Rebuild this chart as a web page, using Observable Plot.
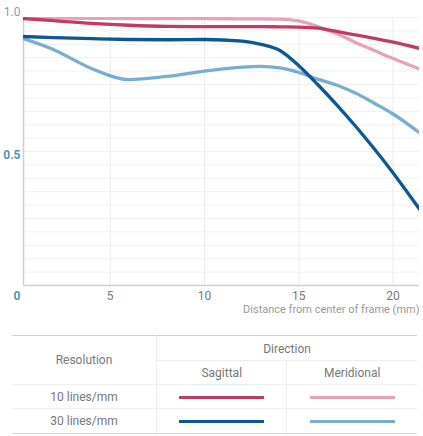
<!DOCTYPE html>
<html>
<head>
<meta charset="utf-8">
<script src="https://cdn.jsdelivr.net/npm/d3@7"></script>
<script src="https://cdn.jsdelivr.net/npm/@observablehq/plot@0.6"></script>
<style>
  body { margin: 0; background: #fff; font-family: Roboto, sans-serif; }
  #chart { width: 423px; height: 325px; }
  table.legend { margin-top: 10px; margin-left: 12px; width: 405px; border-collapse: collapse; color: #777; font-size: 12px; }
  table.legend td { text-align: center; padding: 0; border-bottom: 1px solid #eeeeee; }
  table.legend tr:first-child td { border-top: 1.5px solid #cfcfcf; }
  table.legend tr:last-child td { border-bottom: 1.5px solid #cfcfcf; }
  .sw { display: inline-block; width: 85px; height: 3px; vertical-align: middle; }
</style>
</head>
<body>
<div id="chart"></div>
<table class="legend">
  <tr style="height:25px">
    <td rowspan="2" style="width:145px;border-right:1px solid #eeeeee">Resolution</td>
    <td colspan="2" style="padding-top:1px">Direction</td>
  </tr>
  <tr style="height:24px">
    <td style="width:130px;border-right:1px solid #eeeeee">Sagittal</td>
    <td style="width:130px">Meridional</td>
  </tr>
  <tr style="height:24px">
    <td style="border-right:1px solid #eeeeee">10 lines/mm</td>
    <td style="border-right:1px solid #eeeeee"><span class="sw" id="sw10s"></span></td>
    <td><span class="sw" id="sw10m"></span></td>
  </tr>
  <tr style="height:25px">
    <td style="border-right:1px solid #eeeeee">30 lines/mm</td>
    <td style="border-right:1px solid #eeeeee"><span class="sw" id="sw30s"></span></td>
    <td><span class="sw" id="sw30m"></span></td>
  </tr>
</table>
<script>
// distancia al centro (mm) y contraste MTF
const distancia = [0, 2, 4, 6, 8, 10, 12, 13, 14, 15, 16, 17, 18, 19, 20, 21.4]
const sagital10 = [0.998, 0.988, 0.978, 0.971, 0.967, 0.966, 0.966, 0.966, 0.965, 0.964, 0.96, 0.948, 0.935, 0.922, 0.908, 0.885]
const meridional10 = [0.998, 0.998, 0.997, 0.996, 0.996, 0.996, 0.995, 0.995, 0.994, 0.987, 0.966, 0.94, 0.907, 0.877, 0.847, 0.808]
const sagital30 = [0.930, 0.925, 0.921, 0.918, 0.917, 0.918, 0.912, 0.9, 0.877, 0.82, 0.75, 0.675, 0.595, 0.51, 0.42, 0.285]
const meridional30 = [0.93, 0.88, 0.81, 0.768, 0.78, 0.80, 0.815, 0.818, 0.812, 0.795, 0.77, 0.748, 0.718, 0.68, 0.64, 0.57]

const xTicks = [5, 10, 15, 20]
const xLabel = 'Distance from center of frame (mm)'

const colores = {
	s10: '#c23b66',
	m10: '#e8a2b7',
	s30: '#0d5796',
	m30: '#79aed1',
}

const serie = (ys) => distancia.map((x, i) => ({x: x, y: ys[i]}))

let chart = Plot.plot({
	width: 423,
	height: 325,
	marginLeft: 23,
	marginRight: 4,
	marginTop: 17,
	marginBottom: 40,
	style: {fontFamily: 'Roboto, sans-serif', background: 'white'},
	x: {domain: [0.4, 21.4]},
	y: {domain: [0, 1]},
	marks: [
		Plot.gridY(d3.range(0.05, 1.001, 0.05), {stroke: '#f1f1f1', strokeOpacity: 1}),
		Plot.gridX(xTicks, {stroke: '#ebebeb', strokeOpacity: 1}),
		Plot.ruleX([0.4], {stroke: '#cfcfcf', strokeWidth: 1.5}),
		Plot.ruleY([0], {stroke: '#cfcfcf', strokeWidth: 1.5}),
		Plot.line(serie(meridional30), {x: 'x', y: 'y', stroke: colores.m30, strokeWidth: 3.3, curve: 'monotone-x', clip: true}),
		Plot.line(serie(sagital30), {x: 'x', y: 'y', stroke: colores.s30, strokeWidth: 3.3, curve: 'monotone-x', clip: true}),
		Plot.line(serie(meridional10), {x: 'x', y: 'y', stroke: colores.m10, strokeWidth: 3.3, curve: 'monotone-x', clip: true}),
		Plot.line(serie(sagital10), {x: 'x', y: 'y', stroke: colores.s10, strokeWidth: 3.3, curve: 'monotone-x', clip: true}),
		Plot.axisY([1], {tickSize: 0, tickPadding: 3, tickFormat: '.1f', dy: -5, fill: '#7d9fb3', fontSize: 12, label: null}),
		Plot.axisY([0.5], {tickSize: 0, tickPadding: 3, tickFormat: '.1f', dy: 4, fill: '#5a93b3', fontSize: 12, fontWeight: 'bold', label: null}),
		Plot.axisY([0], {tickSize: 0, tickPadding: 3, tickFormat: 'd', dy: 11, fill: '#5a93b3', fontSize: 12, fontWeight: 'bold', label: null}),
		Plot.axisX(xTicks, {tickSize: 0, tickPadding: 6, fill: '#777', fontSize: 12, label: null}),
		Plot.text([xLabel], {text: d => d, frameAnchor: 'bottom-right', dy: 27, fill: '#999', fontSize: 11}),
	],
})

d3.select('#chart').append(() => chart)

d3.select('#sw10s').style('background', colores.s10)
d3.select('#sw10m').style('background', colores.m10)
d3.select('#sw30s').style('background', colores.s30)
d3.select('#sw30m').style('background', colores.m30)
</script>
</body>
</html>
